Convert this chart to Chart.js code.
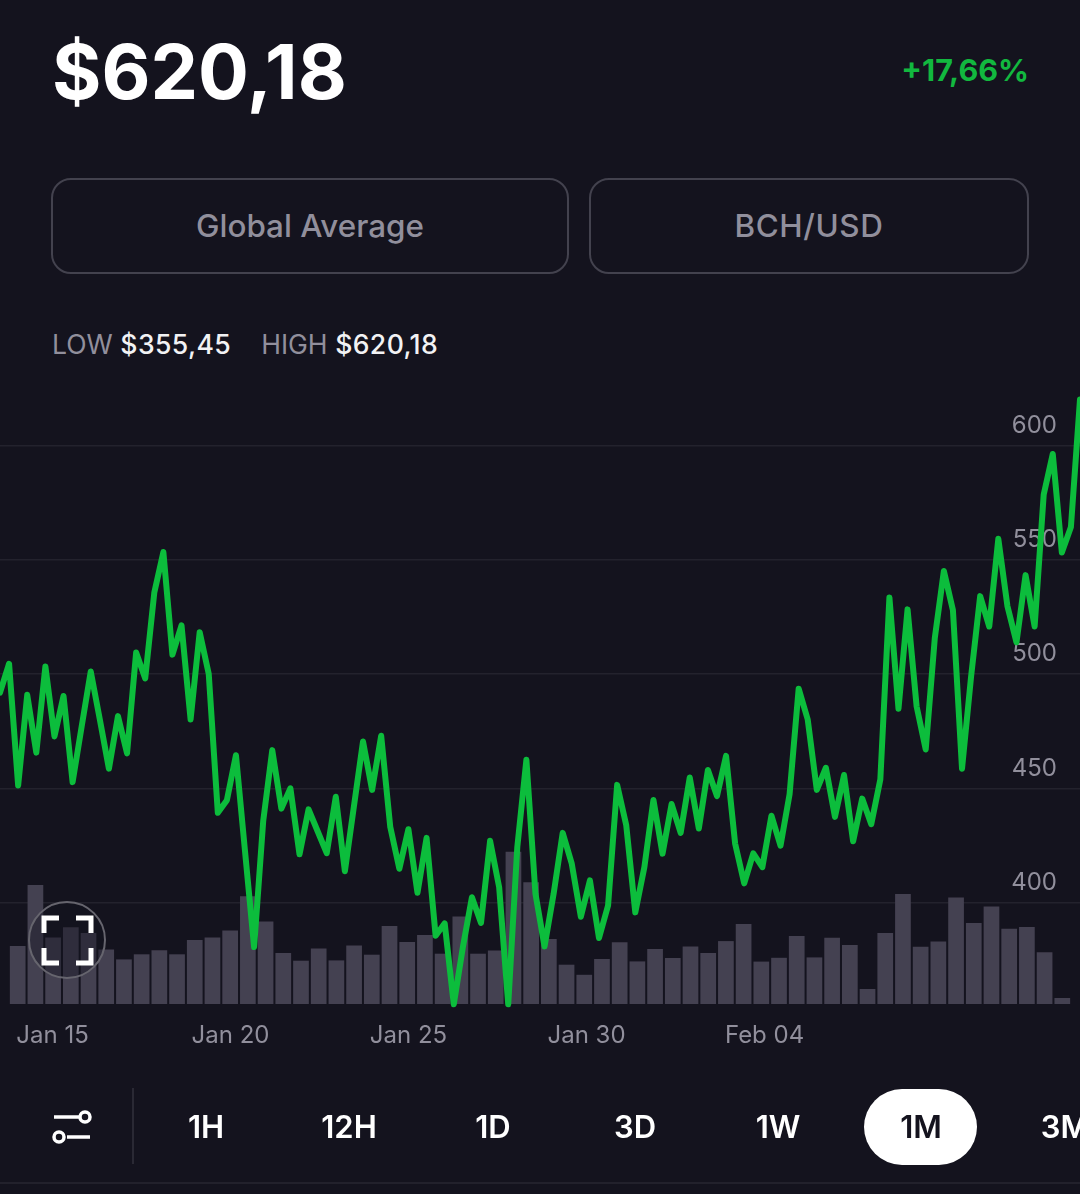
<!DOCTYPE html>
<html>
<head>
<meta charset="utf-8">
<script src="https://cdn.jsdelivr.net/npm/chart.js@4/dist/chart.umd.min.js"></script>
<style>
html,body{margin:0;padding:0;background:#14131e;}
body{position:relative;width:1080px;height:1194px;overflow:hidden;font-family:Inter,Roboto,sans-serif;color:#fff;}
.abs{position:absolute;white-space:nowrap;line-height:1;}
#price{left:52px;top:34px;font-size:75.5px;font-weight:700;}
#chg{right:51px;top:55px;font-size:30.5px;font-weight:700;color:#12b83f;}
.box{position:absolute;top:178px;height:92px;border:2px solid #43424e;border-radius:20px;display:flex;align-items:center;justify-content:center;font-size:31.4px;font-weight:500;color:#918f9c;}
#b2{letter-spacing:.6px;}
#stats{left:52px;top:331px;font-size:26.6px;color:#918f9c;}
#stats b{font-weight:500;color:#f2f2f4;letter-spacing:.4px;}
#wrap{position:absolute;left:0;top:385px;width:1080px;height:675px;}
#fs{position:absolute;left:29px;top:902px;width:74px;height:74px;border:2.5px solid #66656e;border-radius:50%;background:rgba(20,19,30,.42);box-sizing:content-box;margin:-1px;}
.t{position:absolute;top:1108px;font-size:31px;font-weight:600;transform:translateX(-50%);line-height:38px;}
#pill{position:absolute;left:864px;top:1089px;width:113px;height:76px;border-radius:38px;background:#fff;}
#div{position:absolute;left:132px;top:1088px;width:2px;height:76px;background:#2a2934;}
#bot{position:absolute;left:0;top:1182px;width:1080px;height:2px;background:#22212c;}
svg{position:absolute;overflow:visible;}
</style>
</head>
<body>
<div class="abs" id="price">$620,18</div>
<div class="abs" id="chg">+17,66%</div>
<div class="box" style="left:51px;width:514px;">Global Average</div>
<div class="box" id="b2" style="left:589px;width:436px;">BCH/USD</div>
<div class="abs" id="stats">LOW <b>$355,45</b><span style="display:inline-block;width:30px"></span>HIGH <b>$620,18</b></div>
<div id="wrap"><canvas id="c" width="1080" height="675"></canvas></div>
<div id="fs"></div>
<svg style="left:0;top:0" width="1080" height="1194" fill="none" stroke="#fff">
  <g stroke-width="5">
    <path d="M44 933V918H59"/><path d="M76 918H91V933"/><path d="M44 948V963H59"/><path d="M76 963H91V948"/>
  </g>
  <g stroke-width="3.5">
    <path d="M54 1117H79"/><circle cx="85" cy="1117" r="5"/>
    <path d="M67 1137H90"/><circle cx="59" cy="1137" r="5"/>
  </g>
</svg>
<div id="div"></div>
<div id="pill"></div>
<div class="t" style="left:206px">1H</div>
<div class="t" style="left:349px">12H</div>
<div class="t" style="left:493px">1D</div>
<div class="t" style="left:635px">3D</div>
<div class="t" style="left:778px">1W</div>
<div class="t" style="left:921px;color:#14131e">1M</div>
<div class="t" style="left:1065px">3M</div>
<div id="bot"></div>
<script>
const prices = [
  491.9,504.5,451.2,490.9,465.6,503.3,472.7,490.4,452.7,477.1,
  501.1,480.1,458.6,481.6,465.3,509.4,498.1,535.6,553.4,508.5,
  521.3,480.1,518.3,500.1,439.3,444.8,464.5,422.3,380.5,435.6,
  466.7,441.1,450.0,421.1,440.8,431.2,421.6,446.3,413.7,442.2,
  470.5,449.3,473.0,433.1,414.8,432.1,404.3,428.3,385.5,390.9,
  355.45,380.4,402.3,391.1,427.0,406.7,355.5,424.3,462.5,403.8,
  380.8,403.8,430.5,417.0,393.8,409.7,384.5,398.7,451.5,433.9,
  395.7,415.5,444.9,421.4,443.1,430.5,454.7,432.4,458.0,446.6,
  464.2,425.8,408.4,421.5,415.5,438.0,424.9,447.4,493.6,480.1,
  449.3,459.0,437.5,455.8,426.8,445.5,434.3,453.9,533.5,484.8,
  528.3,485.8,467.0,515.7,545.1,527.9,458.6,498.9,534.1,520.8,
  559.2,529.8,513.9,543.3,520.8,578.5,596.3,553.2,564.4,620.18
];
const volumes = [
  58,119,66.6,76.7,71,54.4,44.6,49.7,53.8,49.7,
  63.9,66.6,73.4,107.8,82.5,51,43.3,55.4,43.6,58.5,
  49.3,77.9,62,69,50.3,87.6,50.3,53.4,152.3,121.8,
  65.1,39.3,29.2,45,61.7,42.6,55,46,57.4,51,
  62.9,80,42.4,46.2,68,46.6,66.3,59,15,71,
  110,57.3,62.5,106.5,80.9,97.6,75.3,77,51.8,6
];
const yTicks = [400,450,500,550,600];
const dayTicks = [15,20,25,30,35];
const dayTickLabels = ['Jan 15','Jan 20','Jan 25','Jan 30','Feb 04'];

const barPoints = volumes.map((v, i) => ({x: i + 1, y: v}));
const FONT = 'Inter, Roboto, sans-serif';

new Chart(document.getElementById('c'), {
  data: {
    datasets: [
      { type:'line', data: prices.map((v,i)=>({x:i,y:v})), xAxisID:'xLine', yAxisID:'y',
        borderColor:'#0cbd3c', borderWidth:6, pointRadius:0, tension:0, clip:false, order:0,
        borderJoinStyle:'round', borderCapStyle:'round' },
      { type:'bar', data: barPoints, xAxisID:'xBar', yAxisID:'yVol', backgroundColor:'#444151',
        grouped:false, barPercentage:0.887, categoryPercentage:1, order:1 }
    ]
  },
  options: {
    responsive:false, animation:false,
    layout:{padding:0},
    plugins:{legend:{display:false},tooltip:{enabled:false}},
    scales:{
      xLine:{type:'linear',axis:'x',display:false,min:0,max:prices.length-1},
      xBar:{type:'linear',axis:'x',display:false,min:0,max:volumes.length+1,offset:false},
      xDays:{type:'linear',axis:'x',position:'bottom',min:13.525,max:43.86,
        afterBuildTicks:s=>{s.ticks=dayTicks.map(v=>({value:v}));},
        afterFit:s=>{s.height=56;s.paddingLeft=0;s.paddingRight=0;},
        grid:{display:false},border:{display:false},
        ticks:{color:'#918f9c',font:{family:FONT,size:24},padding:9,maxRotation:0,autoSkip:false,
          callback:v=>dayTickLabels[dayTicks.indexOf(v)]}},
      y:{type:'linear',position:'right',min:355.6,max:626.5,
        afterBuildTicks:s=>{s.ticks=yTicks.map(v=>({value:v}));},
        afterFit:s=>{s.width=0;s.paddingTop=0;s.paddingBottom=0;},
        grid:{color:'#23222d',lineWidth:1.5,drawTicks:false},border:{display:false},
        ticks:{mirror:true,color:'#918f9c',font:{family:FONT,size:24},padding:-23,labelOffset:-20,
          callback:v=>String(v)}},
      yVol:{type:'linear',display:false,min:0,max:619}
    }
  }
});
</script>
</body>
</html>
